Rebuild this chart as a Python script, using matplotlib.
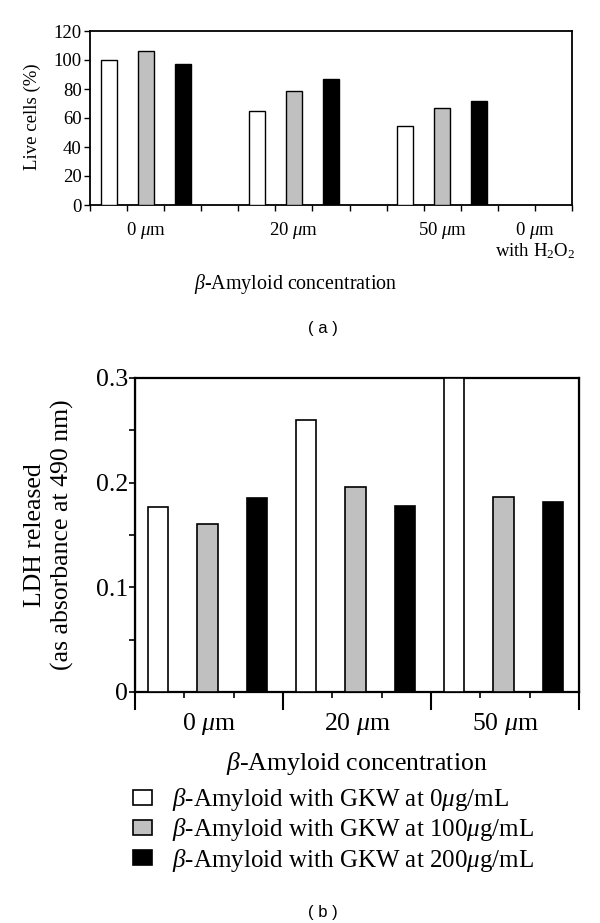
import matplotlib
matplotlib.use("Agg")
import matplotlib.pyplot as plt
import numpy as np
from matplotlib.ticker import MultipleLocator, FixedLocator

plt.rcParams['font.family'] = ['Liberation Serif', 'DejaVu Serif']
plt.rcParams['mathtext.fontset'] = 'custom'
plt.rcParams['mathtext.rm'] = 'Liberation Serif'
plt.rcParams['mathtext.it'] = 'Liberation Serif:italic'
plt.rcParams['mathtext.bf'] = 'Liberation Serif:bold'

# ---- data ----
series_labels = [r"$\beta$-Amyloid with GKW at 0$\mu$g/mL",
                 r"$\beta$-Amyloid with GKW at 100$\mu$g/mL",
                 r"$\beta$-Amyloid with GKW at 200$\mu$g/mL"]
series_colors = ["white", "#c0c0c0", "black"]

a_categories = ["0 $\\mu$m", "20 $\\mu$m", "50 $\\mu$m", "0 $\\mu$m\nwith H$_2$O$_2$"]
a_gkw0 = [100.3, 65.0, 54.8, 0]
a_gkw100 = [106.2, 78.5, 66.9, 0]
a_gkw200 = [97.5, 86.7, 71.9, 0]

b_categories = ["0 $\\mu$m", "20 $\\mu$m", "50 $\\mu$m"]
b_gkw0 = [0.177, 0.2595, 0.300]
b_gkw100 = [0.1605, 0.196, 0.1862]
b_gkw200 = [0.185, 0.178, 0.1818]

W, H = 600, 923
fig = plt.figure(figsize=(6, 9.23), dpi=100)

def frac(l, t, r, b):
    return [l / W, 1 - b / H, (r - l) / W, (b - t) / H]

# ---------------- panel (a) ----------------
ax1 = fig.add_axes(frac(90, 31, 572, 205))
a_vals = [a_gkw0, a_gkw100, a_gkw200]
group_start_a = np.array([0, 4, 8, 12.0])
for i, (vals, col) in enumerate(zip(a_vals, series_colors)):
    xs = group_start_a[:3] + 0.5 + i
    ax1.bar(xs, vals[:3], width=0.43, color=col, edgecolor="black", linewidth=1.0, zorder=3)
ax1.set_xlim(0, 13)
ax1.set_ylim(0, 120)
ax1.yaxis.set_major_locator(MultipleLocator(20))
ax1.xaxis.set_major_locator(MultipleLocator(1))
ax1.xaxis.remove_overlapping_locs = False
ax1.tick_params(axis="x", which="major", length=4, width=1.0, labelbottom=False, direction="out")
ax1.xaxis.set_minor_locator(FixedLocator([1.5, 5.5, 9.5, 12.0]))
ax1.set_xticklabels(a_categories, minor=True, fontsize=13.5, va="top", linespacing=1.0)
ax1.tick_params(axis="x", which="minor", length=0, pad=11)
ax1.tick_params(axis="y", length=4, width=1.0, labelsize=13.5, pad=2)
for s in ax1.spines.values():
    s.set_linewidth(1.3)
fig.text(32 / W, 1 - 117 / H, "Live cells (%)", fontsize=13.5, rotation=90,
         ha="center", va="center")
fig.text(296 / W, 1 - 284 / H, r"$\beta$-Amyloid concentration", fontsize=14.4,
         ha="center", va="center")
fig.text(323 / W, 1 - 328 / H, "( a )", fontsize=12, ha="center", va="center",
         family="Liberation Sans")

# ---------------- panel (b) ----------------
ax2 = fig.add_axes(frac(135, 378, 579, 692))
b_vals = [b_gkw0, b_gkw100, b_gkw200]
group_start_b = np.array([0, 3, 6.0])
for i, (vals, col, lab) in enumerate(zip(b_vals, series_colors, series_labels)):
    xs = group_start_b + 0.47 + i
    ax2.bar(xs, vals, width=0.41, color=col, edgecolor="black", linewidth=1.2, zorder=3,
            label=lab)
ax2.set_xlim(0, 9)
ax2.set_ylim(0, 0.3)
ax2.yaxis.set_major_locator(MultipleLocator(0.1))
ax2.yaxis.set_minor_locator(MultipleLocator(0.05))
ax2.yaxis.set_major_formatter(plt.FuncFormatter(lambda v, p: "0" if abs(v) < 1e-9 else f"{v:.1f}"))
ax2.tick_params(axis="y", which="both", length=4, width=1.2, labelsize=18.5, pad=1)
ax2.xaxis.set_major_locator(FixedLocator([0, 3, 6, 9]))
ax2.xaxis.set_minor_locator(FixedLocator([1, 2, 4, 5, 7, 8]))
ax2.tick_params(axis="x", which="major", length=13, width=1.5, labelbottom=False)
ax2.tick_params(axis="x", which="minor", length=4, width=1.2, labelbottom=False)
for s in ax2.spines.values():
    s.set_linewidth(1.6)
# category labels at group centres
cat_ax = ax2.twiny()
cat_ax.set_xlim(ax2.get_xlim())
cat_ax.xaxis.set_ticks_position("bottom")
cat_ax.xaxis.set_label_position("bottom")
cat_ax.spines["bottom"].set_visible(False)
cat_ax.spines["top"].set_visible(False)
cat_ax.set_xticks(group_start_b + 1.5)
cat_ax.set_xticklabels(b_categories, fontsize=18.5)
cat_ax.tick_params(axis="x", length=0, pad=14)
cat_ax.set_xlabel(r"$\beta$-Amyloid concentration", fontsize=18.5, labelpad=9)

fig.text(49 / W, 1 - 535 / H, "LDH released\n(as absorbance at 490 nm)", fontsize=18.5,
         rotation=90, ha="center", va="center", linespacing=1.3, multialignment="center")

handles, labels = ax2.get_legend_handles_labels()
fig.legend(handles, labels, loc="upper left", bbox_to_anchor=(133 / W, 1 - 786 / H),
           frameon=False, fontsize=18, borderpad=0, borderaxespad=0,
           handlelength=0.76, handleheight=0.56, handletextpad=0.8, labelspacing=0.13)

fig.text(323 / W, 1 - 912 / H, "( b )", fontsize=12, ha="center", va="center",
         family="Liberation Sans")

fig.savefig("out.png", dpi=100)
